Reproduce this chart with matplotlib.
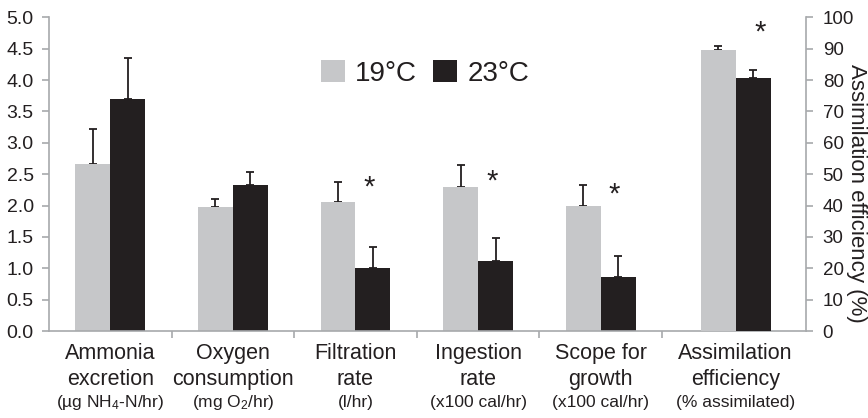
import matplotlib
matplotlib.use("Agg")
import matplotlib.pyplot as plt
import numpy as np

plt.rcParams['font.family'] = ['Liberation Sans', 'DejaVu Sans']
plt.rcParams['mathtext.fontset'] = 'custom'
plt.rcParams['mathtext.rm'] = 'Liberation Sans'
plt.rcParams['mathtext.it'] = 'Liberation Sans:italic'

# ---- data ----
cat_line1 = ["Ammonia", "Oxygen", "Filtration", "Ingestion", "Scope for", "Assimilation"]
cat_line2 = ["excretion", "consumption", "rate", "rate", "growth", "efficiency"]
cat_units = ["(µg NH$_\\mathregular{4}$-N/hr)", "(mg O$_\\mathregular{2}$/hr)", "(l/hr)",
             "(x100 cal/hr)", "(x100 cal/hr)", "(% assimilated)"]
series_names = ["19\u00b0C", "23\u00b0C"]
# left-axis categories (first five)
vals_19 = [2.66, 1.97, 2.06, 2.30, 1.99]
err_19 = [0.56, 0.14, 0.32, 0.35, 0.33]
vals_23 = [3.70, 2.32, 1.00, 1.12, 0.86]
err_23 = [0.65, 0.21, 0.34, 0.36, 0.34]
# right-axis category (assimilation efficiency, %)
assim_19 = [89.6]
assim_err_19 = [1.3]
assim_23 = [80.6]
assim_err_23 = [2.5]
# significance markers: category index, y (left axis units; last one in %)
star_cats = [2, 3, 4]
star_y = [2.28, 2.38, 2.18]
assim_star_y = [95.0]

left_ticks = np.arange(0, 5.01, 0.5)
right_ticks = np.arange(0, 101, 10)

# ---- style ----
grey = "#c6c7c9"
black = "#231f20"
spine_c = "#a7a9ac"
text_c = "#231f20"

fig = plt.figure(figsize=(8.68, 4.18), dpi=100)
ax = fig.add_axes([49/868, 87/418, 757/868, 313.7/418])
ax2 = ax.twinx()

centers = np.array([0.5, 1.5, 2.5, 3.5, 4.5])
assim_center = np.array([5.6])
w = 0.285

ax.bar(centers - w/2, vals_19, w, color=grey, label=series_names[0], zorder=2)
ax.bar(centers + w/2, vals_23, w, color=black, label=series_names[1], zorder=2)
ekw = dict(fmt='none', ecolor=black, elinewidth=1.3, capsize=3, capthick=1.3, zorder=1)
ax.errorbar(centers - w/2, vals_19, yerr=[np.zeros(5), err_19], **ekw)
ax.errorbar(centers + w/2, vals_23, yerr=[np.zeros(5), err_23], **ekw)

ax2.bar(assim_center - w/2, assim_19, w, color=grey, zorder=2)
ax2.bar(assim_center + w/2, assim_23, w, color=black, zorder=2)
ax2.errorbar(assim_center - w/2, assim_19, yerr=[[0], assim_err_19], **ekw)
ax2.errorbar(assim_center + w/2, assim_23, yerr=[[0], assim_err_23], **ekw)

for c, y in zip(star_cats, star_y):
    ax.text(centers[c] + w/2 - 0.03, y, "*", ha='center', va='center', fontsize=21, color=text_c)
ax2.text(assim_center[0] + w/2 + 0.06, assim_star_y[0], "*", ha='center', va='center',
         fontsize=21, color=text_c)

ax.set_xlim(0, 757/122.6)
ax.set_ylim(0, 5)
ax2.set_ylim(0, 100)
ax.set_yticks(left_ticks)
ax.set_yticklabels([f"{t:.1f}" for t in left_ticks])
ax2.set_yticks(right_ticks)
ax2.set_yticklabels([f"{int(t)}" for t in right_ticks])
ax.set_xticks([1, 2, 3, 4, 5])
ax.set_xticklabels([])

for a in (ax, ax2):
    for s in a.spines.values():
        s.set_color(spine_c)
        s.set_linewidth(1.2)
    a.spines['top'].set_visible(False)
ax.spines['right'].set_visible(False)
ax2.spines['left'].set_visible(False)
ax2.spines['bottom'].set_visible(False)

ax.tick_params(axis='y', direction='out', length=5, width=1.2, color=spine_c,
               labelsize=14, labelcolor=text_c, pad=6)
ax.tick_params(axis='x', direction='out', length=5, width=1.2, color=spine_c)
ax2.tick_params(axis='y', direction='out', length=5, width=1.2, color=spine_c,
                labelsize=13.5, labelcolor=text_c, pad=7)

ax2.set_ylabel("Assimilation efficiency (%)", rotation=270, fontsize=16, color=text_c,
               va='center', ha='center')
ax2.yaxis.set_label_coords(1.067, 0.44)

label_x = list(centers) + list(assim_center)
tr = ax.get_xaxis_transform()
for x, l1, l2, u in zip(label_x, cat_line1, cat_line2, cat_units):
    ax.text(x, -0.089, l1, transform=tr, ha='center', va='baseline', fontsize=15.5, color=text_c)
    ax.text(x, -0.172, l2, transform=tr, ha='center', va='baseline', fontsize=15.5, color=text_c)
    ax.text(x, -0.242, u, transform=tr, ha='center', va='baseline', fontsize=12.5, color=text_c)

leg = ax.legend(loc='center', bbox_to_anchor=(0.497, 0.821), ncol=2, frameon=False,
                fontsize=20, handlelength=0.86, handleheight=0.86, handletextpad=0.36,
                columnspacing=0.58, borderpad=0)
for t in leg.get_texts():
    t.set_color(text_c)

fig.savefig("out.png", dpi=100)
